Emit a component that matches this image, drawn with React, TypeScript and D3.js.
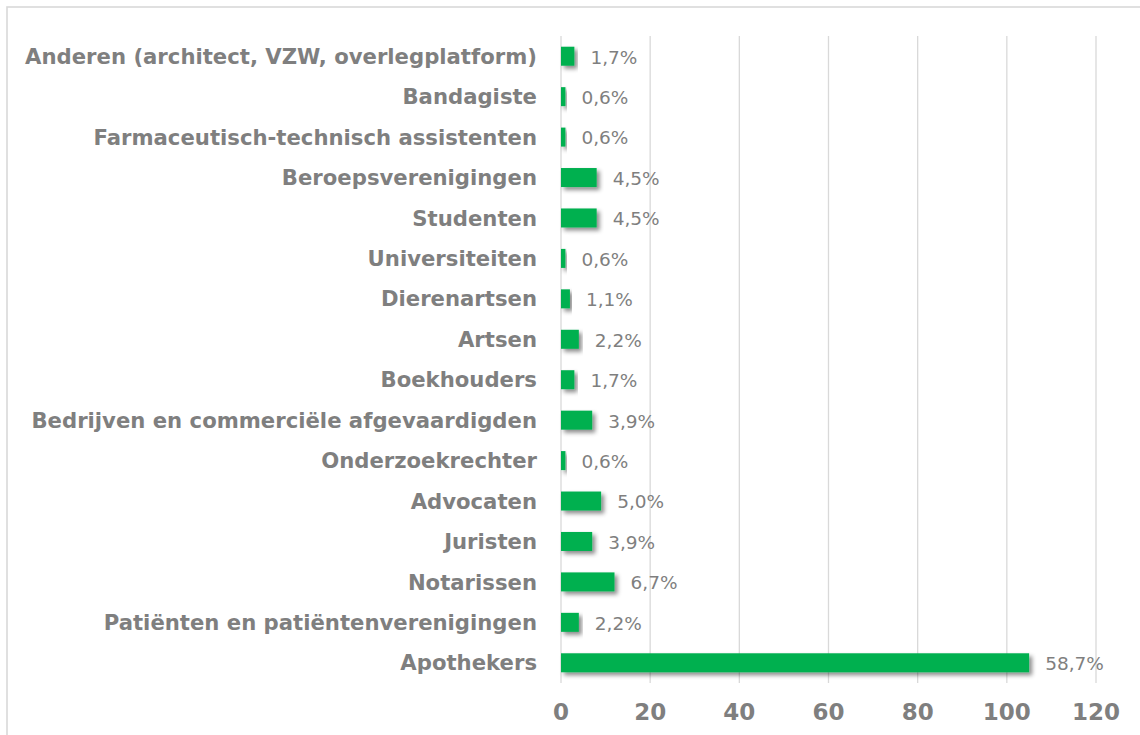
import React from "react";
import * as d3 from "d3";

const categories = [
  "Anderen (architect, VZW, overlegplatform)",
  "Bandagiste",
  "Farmaceutisch-technisch assistenten",
  "Beroepsverenigingen",
  "Studenten",
  "Universiteiten",
  "Dierenartsen",
  "Artsen",
  "Boekhouders",
  "Bedrijven en commerciële afgevaardigden",
  "Onderzoekrechter",
  "Advocaten",
  "Juristen",
  "Notarissen",
  "Patiënten en patiëntenverenigingen",
  "Apothekers",
];
const counts = [3, 1, 1, 8, 8, 1, 2, 4, 3, 7, 1, 9, 7, 12, 4, 105];
const percentLabels = [
  "1,7%", "0,6%", "0,6%", "4,5%", "4,5%", "0,6%", "1,1%", "2,2%",
  "1,7%", "3,9%", "0,6%", "5,0%", "3,9%", "6,7%", "2,2%", "58,7%",
];
const xTicks = [0, 20, 40, 60, 80, 100, 120];

const W = 1140;
const H = 735;
const left = 561;
const right = 1096;
const top = 36;
const bottom = 683;
const gray = "#7f7f7f";
const grid = "#d9d9d9";
const green = "#00b050";
const font = "'DejaVu Sans', Verdana, sans-serif";

export default function App() {
  const x = d3.scaleLinear().domain([0, 120]).range([left, right]);
  const y = d3
    .scaleBand<string>()
    .domain(categories)
    .range([top, bottom])
    .paddingInner(0.53)
    .paddingOuter(0.265);
  const bw = y.bandwidth();

  return (
    <svg
      width={W}
      height={H}
      style={{ position: "absolute", left: 0, top: 0, background: "#fff" }}
    >
      <defs>
        <filter id="shadow" x="-10%" y="-50%" width="130%" height="250%">
          <feDropShadow dx="3" dy="3" stdDeviation="2.2" floodColor="#000" floodOpacity="0.45" />
        </filter>
      </defs>
      <rect x={0} y={0} width={W} height={H} fill="#fff" />
      <rect x={7} y={7} width={1300} height={900} fill="none" stroke="#d9d9d9" strokeWidth={1.6} />
      {xTicks.map((t) => (
        <line key={"g" + t} x1={x(t)} x2={x(t)} y1={top} y2={bottom} stroke={grid} strokeWidth={1.3} />
      ))}
      {xTicks.map((t) => (
        <text
          key={"t" + t}
          x={x(t)}
          y={720}
          textAnchor="middle"
          fontFamily={font}
          fontWeight="bold"
          fontSize={23}
          fill={gray}
        >
          {t}
        </text>
      ))}
      {categories.map((c, i) => {
        const yy = y(c)!;
        return (
          <g key={c}>
            <rect
              x={x(0)}
              y={yy}
              width={x(counts[i]) - x(0)}
              height={bw}
              fill={green}
              filter="url(#shadow)"
            />
            <text
              x={537}
              y={yy + bw / 2}
              dy="0.36em"
              textAnchor="end"
              fontFamily={font}
              fontWeight="bold"
              fontSize={21.2}
              fill={gray}
            >
              {c}
            </text>
            <text
              x={x(counts[i]) + 16}
              y={yy + bw / 2}
              dy="0.4em"
              textAnchor="start"
              fontFamily={font}
              fontSize={18.5}
              fill={gray}
            >
              {percentLabels[i]}
            </text>
          </g>
        );
      })}
    </svg>
  );
}
